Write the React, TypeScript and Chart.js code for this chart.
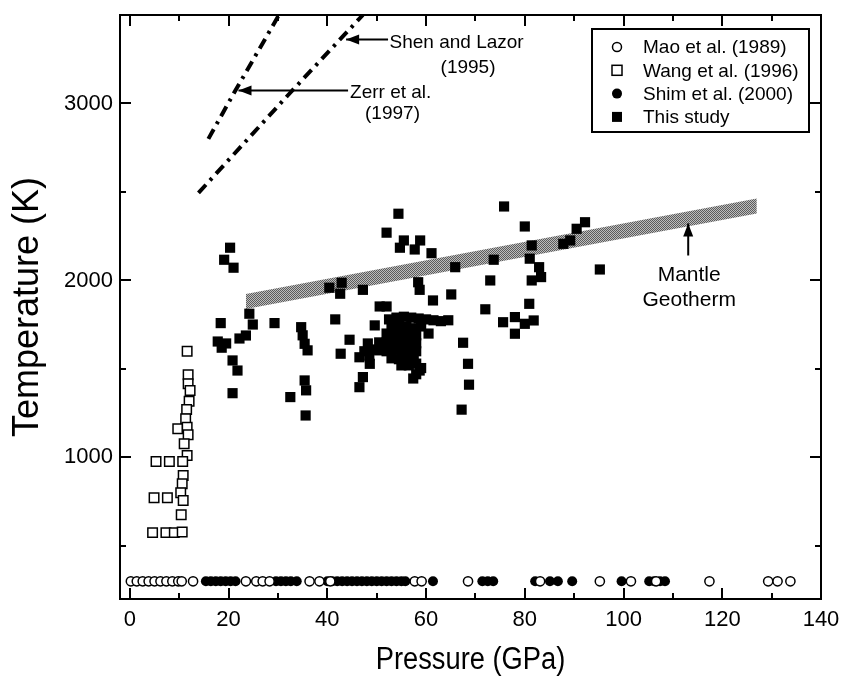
import React, { useEffect, useRef } from 'react';
import { Chart, registerables } from 'chart.js';

Chart.register(...registerables);

const FONT = '"Liberation Sans", Arial, Helvetica, sans-serif';

// ---------- data ----------
// Mao et al. (1989): open circles (pressure GPa, temperature K)
const maoPressure = [0.2, 1.4, 2.6, 3.8, 5.0, 6.2, 7.4, 8.6, 9.8, 10.5, 12.8, 23.5, 25.6, 26.9, 28.3, 36.4, 38.4, 40.6, 57.7, 59.1, 68.5, 83.1, 95.2, 101.5, 106.6, 117.4, 129.3, 131.2, 133.8];
const maoTemperature = [300, 300, 300, 300, 300, 300, 300, 300, 300, 300, 300, 300, 300, 300, 300, 300, 300, 300, 300, 300, 300, 300, 300, 300, 300, 300, 300, 300, 300];

// Wang et al. (1996): open squares
const wangPressure = [11.6, 11.8, 11.8, 12.2, 12.0, 11.5, 11.3, 9.7, 11.6, 11.8, 11.0, 11.6, 5.3, 8.0, 10.7, 10.8, 10.6, 10.3, 4.9, 7.6, 10.8, 10.4, 4.6, 7.3, 9.0, 10.6];
const wangTemperature = [1600, 1467, 1416, 1378, 1318, 1271, 1219, 1162, 1171, 1128, 1077, 1011, 977, 977, 977, 898, 851, 800, 772, 772, 757, 676, 575, 575, 575, 578];

// Shim et al. (2000): filled circles
const shimPressure = [15.4, 16.4, 17.4, 18.4, 19.4, 20.4, 21.4, 29.6, 30.6, 31.6, 32.6, 33.8, 40, 41, 42, 43, 44, 45, 46, 47, 48, 49, 50, 51, 52, 53, 54, 55, 55.8, 61.4, 71.4, 72.5, 73.6, 82.1, 85.1, 86.7, 89.6, 99.6, 105.2, 106.2, 107.4, 108.4];
const shimTemperature = [300, 300, 300, 300, 300, 300, 300, 300, 300, 300, 300, 300, 300, 300, 300, 300, 300, 300, 300, 300, 300, 300, 300, 300, 300, 300, 300, 300, 300, 300, 300, 300, 300, 300, 300, 300, 300, 300, 300, 300, 300, 300];

// This study: filled squares
const studyPressure = [
  54.4, 52.0, 55.5, 58.8, 54.7, 57.7, 61.1, 20.3, 19.1, 21.0, 65.9, 73.7, 73.0,
  42.9, 40.4, 42.6, 47.2, 58.4, 58.7, 61.4, 65.1, 72.0, 52.0, 50.6, 41.6,
  18.4, 29.3, 24.2, 24.9, 34.7, 35.4, 36.0, 35.0, 44.5, 42.7, 49.6,
  67.5, 68.5, 68.7, 67.2, 19.5, 22.2, 23.5, 20.8, 21.8, 20.8, 17.8, 18.6,
  35.4, 35.7, 32.5, 35.6, 46.5, 48.6, 47.2, 46.5, 57.4, 58.7, 48.2,
  75.8, 80.0, 92.2, 90.5, 89.2, 87.8, 81.4, 81.0, 82.9, 83.3, 81.4, 95.2,
  80.9, 75.6, 78.0, 78.0, 80.0, 81.8,
  52.5, 54.0, 55.5, 57.0, 58.5, 60.0, 61.5, 63.0, 64.5,
  53.0, 54.5, 56.0, 57.5, 59.0, 52.0, 53.5, 55.0, 56.5, 58.0,
  50.5, 52.0, 53.5, 55.0, 56.5, 58.0, 49.0, 50.5, 52.0, 53.5, 55.0, 56.5, 58.0,
  47.5, 48.5, 53.0, 54.5, 56.0, 57.5, 55.0, 56.5, 58.0, 58.0, 59.0, 60.5
];
const studyTemperature = [
  2377, 2270, 2226, 2226, 2185, 2175, 2154, 2185, 2117, 2072, 2075, 2117, 2000,
  1987, 1959, 1925, 1947, 1990, 1947, 1887, 1921, 1837, 1853, 1853, 1780,
  1759, 1759, 1812, 1751, 1736, 1642, 1605, 1690, 1665, 1586, 1746,
  1648, 1529, 1411, 1270, 1644, 1672, 1689, 1548, 1491, 1363, 1655, 1620,
  1435, 1379, 1341, 1237, 1566, 1529, 1454, 1397, 1446, 1491, 1644,
  2418, 2305, 2329, 2292, 2226, 2207, 2198, 2123, 2075, 2019, 2000, 2062,
  1868, 1764, 1793, 1699, 1755, 1774,
  1780, 1790, 1795, 1790, 1785, 1780, 1775, 1770, 1775,
  1740, 1745, 1740, 1730, 1740, 1700, 1700, 1700, 1690, 1690,
  1650, 1650, 1655, 1650, 1640, 1645, 1610, 1605, 1600, 1610, 1600, 1600, 1600,
  1600, 1575, 1560, 1555, 1555, 1560, 1520, 1520, 1530, 1470, 1505, 1700
];

// Mantle geotherm band (lower and upper edges)
const geothermPressure = [23.5, 127];
const geothermLower = [1838, 2378];
const geothermUpper = [1923, 2463];

// Melting curves
const zerrPressure = [15.9, 21.2, 30.2];
const zerrTemperature = [2800, 3065, 3500];
const shenPressure = [13.9, 32.3, 47.2];
const shenTemperature = [2495, 3055, 3500];

// Axes
const xMin = -2, xMax = 140;
const yMin = 200, yMax = 3500;
const xTickValues = [0, 10, 20, 30, 40, 50, 60, 70, 80, 90, 100, 110, 120, 130, 140];
const xTickLabels = ['0', '', '20', '', '40', '', '60', '', '80', '', '100', '', '120', '', '140'];
const yTickValues = [500, 1000, 1500, 2000, 2500, 3000, 3500];
const yTickLabels = ['', '1000', '', '2000', '', '3000', ''];
const xTitle = 'Pressure (GPa)';
const yTitle = 'Temperature (K)';

const legendLabels = ['Mao et al. (1989)', 'Wang et al. (1996)', 'Shim et al. (2000)', 'This study'];

const pts = (xs: number[], ys: number[]) => xs.map((x, i) => ({ x, y: ys[i] }));

function makePattern(): CanvasPattern | string {
  const c = document.createElement('canvas');
  c.width = 2; c.height = 2;
  const g = c.getContext('2d');
  if (!g) return '#8f8f8f';
  g.fillStyle = '#bdbdbd'; g.fillRect(0, 0, 2, 2);
  g.fillStyle = '#5c5c5c'; g.fillRect(0, 0, 1, 1); g.fillRect(1, 1, 1, 1);
  const p = g.createPattern(c, 'repeat');
  return p || '#8f8f8f';
}

function arrow(ctx: CanvasRenderingContext2D, x1: number, y1: number, x2: number, y2: number) {
  ctx.beginPath();
  ctx.moveTo(x1, y1);
  ctx.lineTo(x2, y2);
  ctx.stroke();
  const a = Math.atan2(y2 - y1, x2 - x1);
  const L = 13, W = 5;
  const c = Math.cos(a), s = Math.sin(a);
  ctx.beginPath();
  ctx.moveTo(x2, y2);
  ctx.lineTo(x2 - L * c + W * s, y2 - L * s - W * c);
  ctx.lineTo(x2 - L * c - W * s, y2 - L * s + W * c);
  ctx.closePath();
  ctx.fill();
}

const isMajor = (vals: number[], labels: string[], v: number) => labels[vals.indexOf(v)] !== '';

const framePlugin = {
  id: 'frameTicks',
  afterDraw(chart: any) {
    const { ctx, chartArea: a, scales } = chart;
    ctx.save();
    ctx.strokeStyle = '#000';
    ctx.fillStyle = '#000';
    ctx.lineWidth = 2;
    ctx.strokeRect(a.left, a.top, a.right - a.left, a.bottom - a.top);
    ctx.beginPath();
    for (const t of scales.x.ticks) {
      const px = Math.round(scales.x.getPixelForValue(t.value));
      const len = isMajor(xTickValues, xTickLabels, t.value) ? 11 : 6;
      ctx.moveTo(px, a.bottom); ctx.lineTo(px, a.bottom - len);
      ctx.moveTo(px, a.top); ctx.lineTo(px, a.top + len);
    }
    for (const t of scales.y.ticks) {
      const py = Math.round(scales.y.getPixelForValue(t.value));
      const len = isMajor(yTickValues, yTickLabels, t.value) ? 11 : 6;
      ctx.moveTo(a.left, py); ctx.lineTo(a.left + len, py);
      ctx.moveTo(a.right, py); ctx.lineTo(a.right - len, py);
    }
    ctx.stroke();

    // axis titles
    ctx.textAlign = 'center';
    ctx.textBaseline = 'middle';
    ctx.save();
    ctx.translate((a.left + a.right) / 2, 660);
    ctx.scale(0.88, 1);
    ctx.font = `31px ${FONT}`;
    ctx.fillText(xTitle, 0, 0);
    ctx.restore();
    ctx.save();
    ctx.translate(28, (a.top + a.bottom) / 2);
    ctx.rotate(-Math.PI / 2);
    ctx.font = `36px ${FONT}`;
    ctx.fillText(yTitle, 0, 0);
    ctx.restore();

    // legend box
    const bx = a.right - 229, by = a.top + 14, bw = 217, bh = 103;
    ctx.fillStyle = '#fff';
    ctx.fillRect(bx, by, bw, bh);
    ctx.lineWidth = 2;
    ctx.strokeRect(bx, by, bw, bh);
    ctx.font = `19px ${FONT}`;
    ctx.textBaseline = 'middle';
    ctx.textAlign = 'left';
    legendLabels.forEach((lab, i) => {
      const cy = by + 18 + i * 23.3;
      const mx = bx + 25;
      ctx.lineWidth = 1.5;
      ctx.strokeStyle = '#000';
      if (i === 0) {
        ctx.beginPath(); ctx.arc(mx, cy, 4.5, 0, Math.PI * 2);
        ctx.fillStyle = '#fff'; ctx.fill(); ctx.stroke();
      } else if (i === 1) {
        ctx.fillStyle = '#fff';
        ctx.fillRect(mx - 5, cy - 5, 10, 10); ctx.strokeRect(mx - 5, cy - 5, 10, 10);
      } else if (i === 2) {
        ctx.beginPath(); ctx.arc(mx, cy, 5, 0, Math.PI * 2);
        ctx.fillStyle = '#000'; ctx.fill();
      } else {
        ctx.fillStyle = '#000';
        ctx.fillRect(mx - 5, cy - 5, 10, 10);
      }
      ctx.fillStyle = '#000';
      ctx.fillText(lab, bx + 51, cy + 1);
    });
    ctx.restore();
  },
};

const annotationPlugin = {
  id: 'notes',
  afterDatasetsDraw(chart: any) {
    const { ctx, scales } = chart;
    const X = (v: number) => scales.x.getPixelForValue(v);
    const Y = (v: number) => scales.y.getPixelForValue(v);
    ctx.save();
    ctx.strokeStyle = '#000';
    ctx.fillStyle = '#000';
    ctx.lineWidth = 2;
    arrow(ctx, X(52.3), Y(3362), X(43.8), Y(3362));
    arrow(ctx, X(44.2), Y(3073), X(22.0), Y(3073));
    arrow(ctx, X(113.1), Y(2141), X(113.1), Y(2322));
    ctx.font = `19px ${FONT}`;
    ctx.textBaseline = 'middle';
    ctx.textAlign = 'left';
    ctx.fillText('Shen and Lazor', X(52.6), Y(3345));
    ctx.fillText('Zerr et al.', X(44.6), Y(3062));
    ctx.textAlign = 'center';
    ctx.fillText('(1995)', X(68.5), Y(3203));
    ctx.fillText('(1997)', X(53.2), Y(2940));
    ctx.font = `21px ${FONT}`;
    ctx.fillText('Mantle', X(113.3), Y(2028));
    ctx.fillText('Geotherm', X(113.3), Y(1887));
    ctx.restore();
  },
};

const zeroPad = (s: any) => {
  s.paddingLeft = 0; s.paddingRight = 0; s.paddingTop = 0; s.paddingBottom = 0;
};

export default function App() {
  const ref = useRef<HTMLCanvasElement>(null);
  useEffect(() => {
    if (!ref.current) return;
    const band = makePattern();
    const chart = new Chart(ref.current, {
      type: 'scatter',
      data: {
        datasets: [
          {
            label: legendLabels[0], data: pts(maoPressure, maoTemperature),
            pointStyle: 'circle', pointRadius: 4.6, backgroundColor: '#fff', borderColor: '#000', borderWidth: 1.5,
          },
          {
            label: legendLabels[1], data: pts(wangPressure, wangTemperature),
            pointStyle: 'rect', pointRadius: 6.7, backgroundColor: '#fff', borderColor: '#000', borderWidth: 1.5,
          },
          {
            label: legendLabels[2], data: pts(shimPressure, shimTemperature),
            pointStyle: 'circle', pointRadius: 5, backgroundColor: '#000', borderColor: '#000', borderWidth: 0,
          },
          {
            label: legendLabels[3], data: pts(studyPressure, studyTemperature),
            pointStyle: 'rect', pointRadius: 7.2, backgroundColor: '#000', borderColor: '#000', borderWidth: 0,
          },
          {
            type: 'line', label: 'Zerr', data: pts(zerrPressure, zerrTemperature),
            borderColor: '#000', borderWidth: 4, borderDash: [11, 6, 3, 6], pointRadius: 0, fill: false, tension: 0,
          } as any,
          {
            type: 'line', label: 'Shen', data: pts(shenPressure, shenTemperature),
            borderColor: '#000', borderWidth: 4, borderDash: [11, 6, 3, 6], pointRadius: 0, fill: false, tension: 0,
          } as any,
          {
            type: 'line', label: 'geo-low', data: pts(geothermPressure, geothermLower),
            borderWidth: 0, borderColor: 'rgba(0,0,0,0)', pointRadius: 0, fill: false,
          } as any,
          {
            type: 'line', label: 'geo-high', data: pts(geothermPressure, geothermUpper),
            borderWidth: 0, borderColor: 'rgba(0,0,0,0)', pointRadius: 0, fill: '-1', backgroundColor: band,
          } as any,
        ],
      },
      options: {
        animation: false,
        responsive: false,
        devicePixelRatio: 1,
        events: [],
        layout: { padding: { left: 0, right: 20, top: 15, bottom: 0 } },
        plugins: { legend: { display: false }, tooltip: { enabled: false } },
        scales: {
          x: {
            type: 'linear', position: 'bottom', min: xMin, max: xMax,
            grid: { display: false, drawTicks: false }, border: { display: false },
            afterBuildTicks: (s: any) => { s.ticks = xTickValues.map((v) => ({ value: v })); },
            ticks: {
              autoSkip: false, maxRotation: 0, padding: 8,
              color: '#000', font: { family: FONT, size: 22 },
              callback: (v: any) => xTickLabels[xTickValues.indexOf(Number(v))] ?? '',
            },
            title: { display: false },
            afterFit: (s: any) => { s.height = 80; zeroPad(s); },
          },
          y: {
            type: 'linear', position: 'left', min: yMin, max: yMax,
            grid: { display: false, drawTicks: false }, border: { display: false },
            afterBuildTicks: (s: any) => { s.ticks = yTickValues.map((v) => ({ value: v })); },
            ticks: {
              autoSkip: false, padding: 7,
              color: '#000', font: { family: FONT, size: 22 },
              callback: (v: any) => yTickLabels[yTickValues.indexOf(Number(v))] ?? '',
            },
            title: { display: false },
            afterFit: (s: any) => { s.width = 120; zeroPad(s); },
          },
        },
      } as any,
      plugins: [annotationPlugin, framePlugin],
    });
    return () => chart.destroy();
  }, []);
  return (
    <div style={{ position: 'absolute', left: 0, top: 0, width: 841, height: 679, background: '#fff' }}>
      <canvas ref={ref} width={841} height={679} style={{ display: 'block' }} />
    </div>
  );
}
